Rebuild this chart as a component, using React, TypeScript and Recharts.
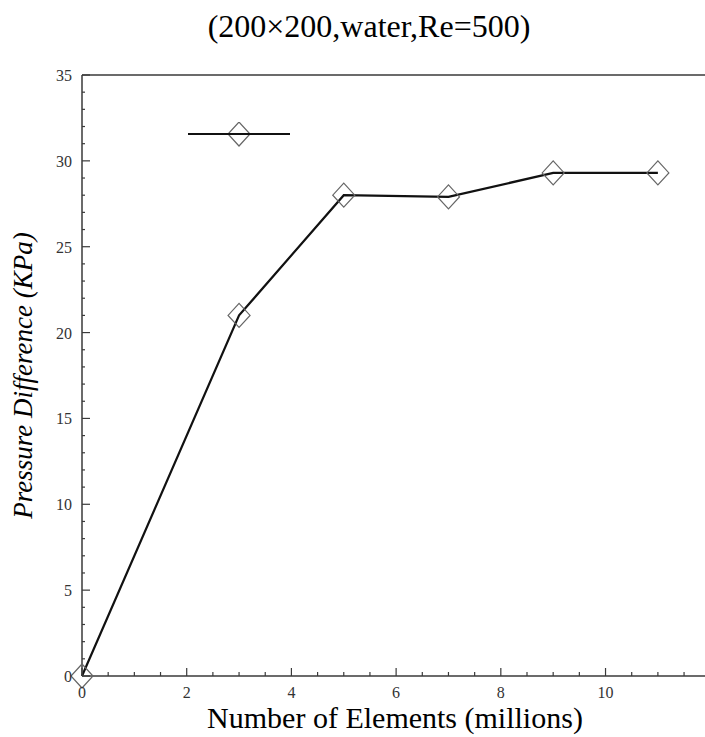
import React from 'react';
import {
  LineChart,
  Line,
  XAxis,
  YAxis,
  ReferenceLine,
  Label,
} from 'recharts';

// grid study: number of elements (millions) vs pressure difference (KPa)
const elements = [0, 3, 5, 7, 9, 11];
const pressure = [0, 21, 28, 27.9, 29.3, 29.3];

const xTicks = [0, 0.5, 1, 1.5, 2, 2.5, 3, 3.5, 4, 4.5, 5, 5.5, 6, 6.5, 7, 7.5, 8, 8.5, 9, 9.5, 10, 10.5, 11, 11.5];
const xLabels = [0, 2, 4, 6, 8, 10];
const yTicks = [0, 1, 2, 3, 4, 5, 6, 7, 8, 9, 10, 11, 12, 13, 14, 15, 16, 17, 18, 19, 20, 21, 22, 23, 24, 25, 26, 27, 28, 29, 30, 31, 32, 33, 34, 35];
const yLabels = [0, 5, 10, 15, 20, 25, 30, 35];

const data = elements.map((x, i) => ({ x, y: pressure[i] }));

const AXIS = '#3a3a3a';
const TICK_FONT = '"Liberation Serif", "Times New Roman", serif';

function diamondPath(cx: number, cy: number) {
  return `M${cx},${cy - 12} L${cx + 11},${cy} L${cx},${cy + 12} L${cx - 11},${cy} Z`;
}

const Diamond = (props: any) => {
  const { cx, cy, index } = props;
  if (cx == null || cy == null) return null;
  return <path key={index} d={diamondPath(cx, cy)} fill="none" stroke="#666" strokeWidth={1.2} />;
};

const XTick = (props: any) => {
  const { x, y, payload } = props;
  const major = xLabels.includes(payload.value);
  return (
    <g>
      <line x1={x} x2={x} y1={y} y2={y - (major ? 8 : 4)} stroke={AXIS} strokeWidth={1.2} />
      {major && (
        <text x={x} y={y + 22} textAnchor="middle" fontFamily={TICK_FONT} fontSize={16} fill="#333">
          {payload.value}
        </text>
      )}
    </g>
  );
};

const YTick = (props: any) => {
  const { x, y, payload } = props;
  const major = yLabels.includes(payload.value);
  return (
    <g>
      <line x1={x} x2={x + (major ? 8 : 3)} y1={y} y2={y} stroke={AXIS} strokeWidth={1.2} />
      {major && (
        <text x={x - 10} y={y + 6} textAnchor="end" fontFamily={TICK_FONT} fontSize={16} fill="#333">
          {payload.value}
        </text>
      )}
    </g>
  );
};

export default function App() {
  return (
    <div
      style={{
        position: 'absolute',
        left: 0,
        top: 0,
        width: 705,
        height: 737,
        overflow: 'hidden',
        background: '#fff',
      }}
    >
      <div
        style={{
          position: 'absolute',
          left: 369,
          top: 10,
          transform: 'translateX(-50%)',
          whiteSpace: 'nowrap',
          fontFamily: '"Liberation Serif", "Times New Roman", serif',
          fontSize: 32,
          lineHeight: '32px',
          color: '#000',
        }}
      >
        (200×200,water,Re=500)
      </div>

      <LineChart width={705} height={737} data={data} margin={{ top: 75, right: 0, bottom: 0, left: 0 }}>
        <XAxis
          dataKey="x"
          type="number"
          domain={[0, 11.9]}
          ticks={xTicks}
          interval={0}
          height={61}
          tickSize={0}
          tickMargin={0}
          tickLine={false}
          tick={<XTick />}
          axisLine={{ stroke: AXIS, strokeWidth: 1.5 }}
        >
          <Label
            content={() => (
              <text
                x={395}
                y={728}
                textAnchor="middle"
                fontFamily={TICK_FONT}
                fontSize={30}
                fill="#000"
              >
                Number of Elements (millions)
              </text>
            )}
          />
        </XAxis>
        <YAxis
          type="number"
          domain={[0, 35]}
          ticks={yTicks}
          interval={0}
          width={82}
          tickSize={0}
          tickMargin={0}
          tickLine={false}
          tick={<YTick />}
          axisLine={{ stroke: AXIS, strokeWidth: 1.5 }}
        >
          <Label
            content={(p: any) => (
              <text
                transform={`translate(32, ${p.viewBox.y + p.viewBox.height / 2}) rotate(-90)`}
                textAnchor="middle"
                fontFamily={TICK_FONT}
                fontStyle="italic"
                fontSize={27}
                fill="#000"
              >
                Pressure Difference (KPa)
              </text>
            )}
          />
        </YAxis>
        <ReferenceLine y={35} stroke={AXIS} strokeWidth={1.5} />
        <Line
          dataKey="y"
          stroke="none"
          dot={<Diamond />}
          activeDot={false}
          isAnimationActive={false}
        />
        <Line
          dataKey="y"
          type="linear"
          stroke="#111"
          strokeWidth={2.2}
          dot={false}
          activeDot={false}
          isAnimationActive={false}
        />
      </LineChart>

      {/* legend sample: line with diamond marker, no text */}
      <svg style={{ position: 'absolute', left: 188, top: 122 }} width={102} height={26}>
        <path d={diamondPath(51, 12)} fill="none" stroke="#666" strokeWidth={1.2} />
        <line x1={0} x2={102} y1={12} y2={12} stroke="#111" strokeWidth={2.2} />
      </svg>
    </div>
  );
}
